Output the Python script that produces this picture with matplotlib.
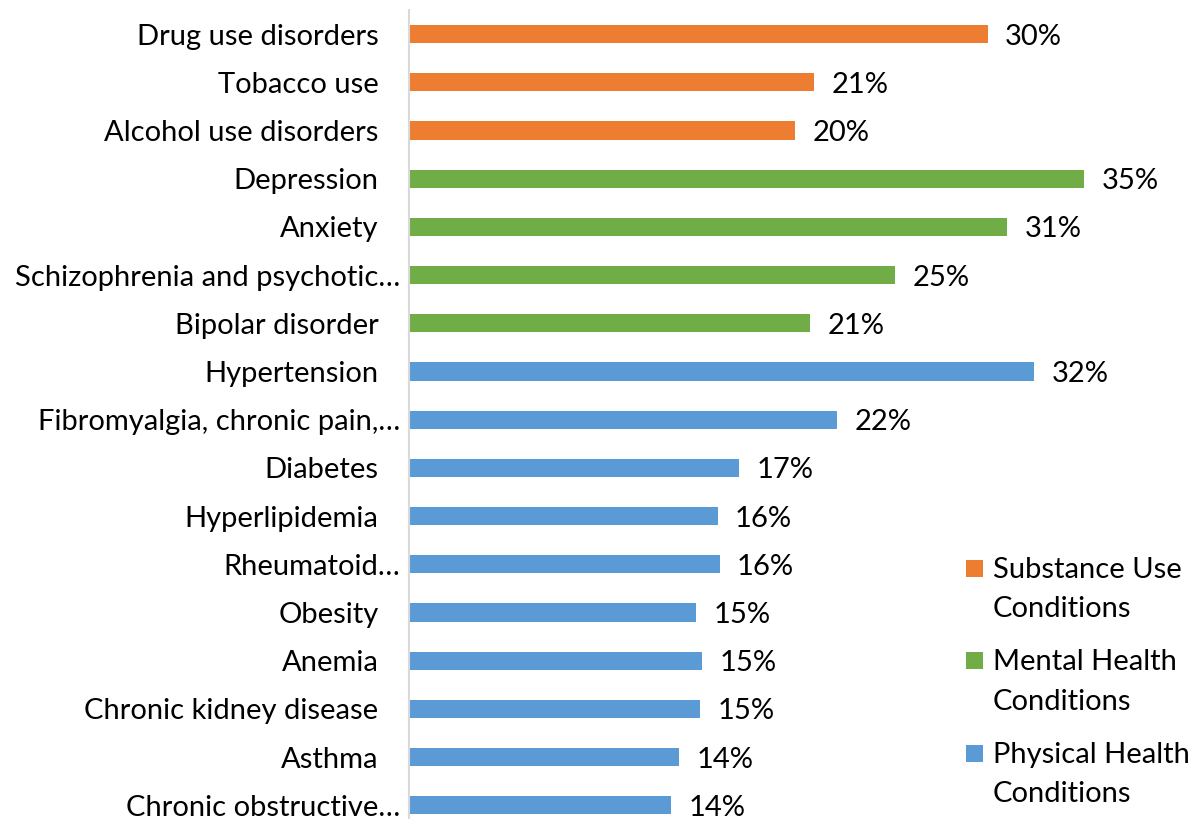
import numpy as np
import matplotlib.pyplot as plt
from matplotlib.patches import Rectangle
from matplotlib.transforms import ScaledTranslation

# Data (percent of patients)
categories = ["Drug use disorders", "Tobacco use", "Alcohol use disorders",
              "Depression", "Anxiety", "Schizophrenia and psychotic\u2026",
              "Bipolar disorder", "Hypertension", "Fibromyalgia, chronic pain,\u2026",
              "Diabetes", "Hyperlipidemia", "Rheumatoid\u2026", "Obesity", "Anemia",
              "Chronic kidney disease", "Asthma", "Chronic obstructive\u2026"]
values = [30.0, 21.0, 20.0,
          35.0, 31.0, 25.2, 20.8,
          32.4, 22.2, 17.1, 16.0, 16.1, 14.9, 15.2, 15.1, 14.0, 13.6]
groups = ["Substance Use"] * 3 + ["Mental Health"] * 4 + ["Physical Health"] * 10
groupNames = ["Substance Use", "Mental Health", "Physical Health"]
groupColours = {"Substance Use": "#ED7D31",
                "Mental Health": "#70AD47",
                "Physical Health": "#5B9BD5"}

plt.rcParams['font.family'] = ['Lato', 'DejaVu Sans']
fontSize = 21

W, H = 1191, 819
fig = plt.figure(figsize=(W / 100, H / 100), dpi=100)

# Axes placed in pixel terms; bottom runs slightly off the canvas like the original
rowPx = 48.2
pctPx = 19.29
left, top = 409, 10
xMax = 40
axH = rowPx * len(categories)
ax = fig.add_axes([left / W, 1 - (top + axH) / H, xMax * pctPx / W, axH / H])

y = np.arange(len(categories))
colours = [groupColours[g] for g in groups]
ax.barh(y, values, height=0.38, color=colours, left=0)

for yi, v in zip(y, values):
    ax.text(v + 0.9, yi + 0.05, str(int(round(v))) + "%", va='center', ha='left',
            fontsize=fontSize, color='black')

ax.set_ylim(len(categories) - 0.5, -0.5)
ax.set_xlim(0, xMax)
ax.set_yticks(y)
ax.set_yticklabels(categories, fontsize=fontSize)
ax.tick_params(axis='y', length=0, pad=22)
ax.set_xticks([])
for s in ['top', 'right', 'bottom']:
    ax.spines[s].set_visible(False)
ax.spines['left'].set_color('#D9D9D9')
ax.spines['left'].set_linewidth(1.5)

# Truncated labels (with the ellipsis) sit closer to the axis in the original
shift = ScaledTranslation(22 / 100, 0, fig.dpi_scale_trans)
for lbl in ax.get_yticklabels():
    if lbl.get_text().endswith("\u2026"):
        lbl.set_transform(lbl.get_transform() + shift)


# Legend drawn by hand so the swatch sits on the first line of each two-line label
legendBaselines = [(578, 617), (670, 710), (763, 802)]
for name, (b1, b2) in zip(groupNames, legendBaselines):
    fig.patches.append(Rectangle((966 / W, 1 - (b1 - 1) / H), 17 / W, 17 / H,
                                 transform=fig.transFigure, facecolor=groupColours[name],
                                 edgecolor='none'))
    fig.text(993 / W, 1 - b1 / H, name, va='baseline', ha='left', fontsize=fontSize)
    fig.text(993 / W, 1 - b2 / H, "Conditions", va='baseline', ha='left', fontsize=fontSize)

plt.savefig("out.png", dpi=100)
